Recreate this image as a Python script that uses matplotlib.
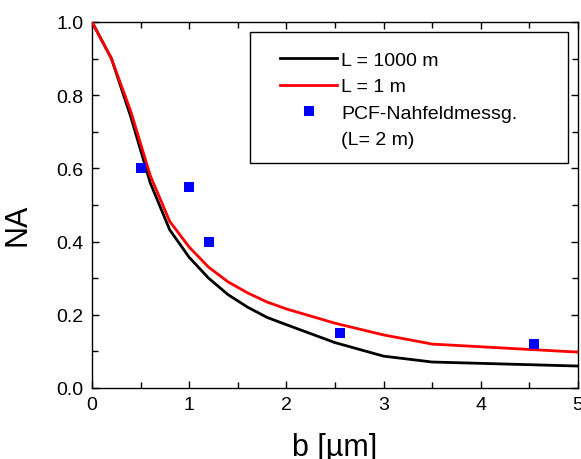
import matplotlib
matplotlib.use("Agg")
import matplotlib.pyplot as plt
from matplotlib.lines import Line2D
from matplotlib.patches import Rectangle
from matplotlib.ticker import MultipleLocator, FormatStrFormatter

plt.rcParams['font.family'] = ['Liberation Sans', 'DejaVu Sans']

b_curve = [0.0, 0.2, 0.4, 0.6, 0.8, 1.0, 1.2, 1.4, 1.6, 1.8, 2.0, 2.5, 3.0, 3.5, 5.0]
na_L1000 = [1.0, 0.90, 0.74, 0.56, 0.432, 0.357, 0.30, 0.255, 0.221, 0.193, 0.173, 0.124, 0.087, 0.071, 0.060]
na_L1 = [1.0, 0.90, 0.755, 0.58, 0.455, 0.385, 0.33, 0.29, 0.26, 0.235, 0.216, 0.177, 0.145, 0.120, 0.098]

b_meas = [0.5, 1.0, 1.2, 2.55, 4.55]
na_meas = [0.60, 0.55, 0.40, 0.15, 0.12]

labels = ["L = 1000 m", "L = 1 m", "PCF-Nahfeldmessg.", "(L= 2 m)"]

W, H = 581, 460
X0, X1, Y0, Y1 = 92, 578, 389, 23   # axes pixel box


def ax_x(px):
    return (px - X0) / (X1 - X0)


def ax_y(py):
    return (Y0 - py) / (Y0 - Y1)


fig = plt.figure(figsize=(W/100, H/100), dpi=100)
ax = fig.add_axes([X0/W, 1-Y0/H, (X1-X0)/W, (Y0-Y1)/H])

ax.plot(b_curve, na_L1000, color='black', lw=2.0, label=labels[0], zorder=3)
ax.plot(b_curve, na_L1, color='#ff0000', lw=2.0, label=labels[1], zorder=3)
ax.plot(b_meas, na_meas, linestyle='none', marker='s', markersize=7.7,
        markeredgewidth=0, color='#0000ff', label=labels[2], zorder=4)

ax.set_xlim(0, 5)
ax.set_ylim(0, 1.0)
ax.xaxis.set_major_locator(MultipleLocator(1))
ax.xaxis.set_minor_locator(MultipleLocator(0.5))
ax.yaxis.set_major_locator(MultipleLocator(0.2))
ax.yaxis.set_minor_locator(MultipleLocator(0.1))
ax.yaxis.set_major_formatter(FormatStrFormatter('%.1f'))
ax.tick_params(which='both', direction='in', top=True, right=True, width=1.0,
               labelsize=14, pad=6)
ax.tick_params(which='major', length=5)
ax.tick_params(which='minor', length=4)
for s in ax.spines.values():
    s.set_linewidth(1.0)

ax.set_xlabel("b [µm]", fontsize=22, labelpad=13.5)
ax.set_ylabel("NA", fontsize=22)
ax.yaxis.set_label_coords(ax_x(33), ax_y(225))

# legend frame
ax.add_patch(Rectangle((ax_x(250), ax_y(164)), ax_x(568) - ax_x(250),
                       ax_y(33) - ax_y(164), transform=ax.transAxes,
                       facecolor='white', edgecolor='black', lw=1.0, zorder=5))

handles, _ = ax.get_legend_handles_labels()
handles.append(Line2D([], [], linestyle='none', marker=None))
leg = ax.legend(handles, labels, loc='upper left',
                bbox_to_anchor=(ax_x(280), ax_y(52.5)),
                borderaxespad=0, borderpad=0, fontsize=14, frameon=False,
                handlelength=2.94, handletextpad=0.2, labelspacing=0.45,
                numpoints=1)
leg.set_zorder(6)

fig.savefig("out.png", dpi=100)
